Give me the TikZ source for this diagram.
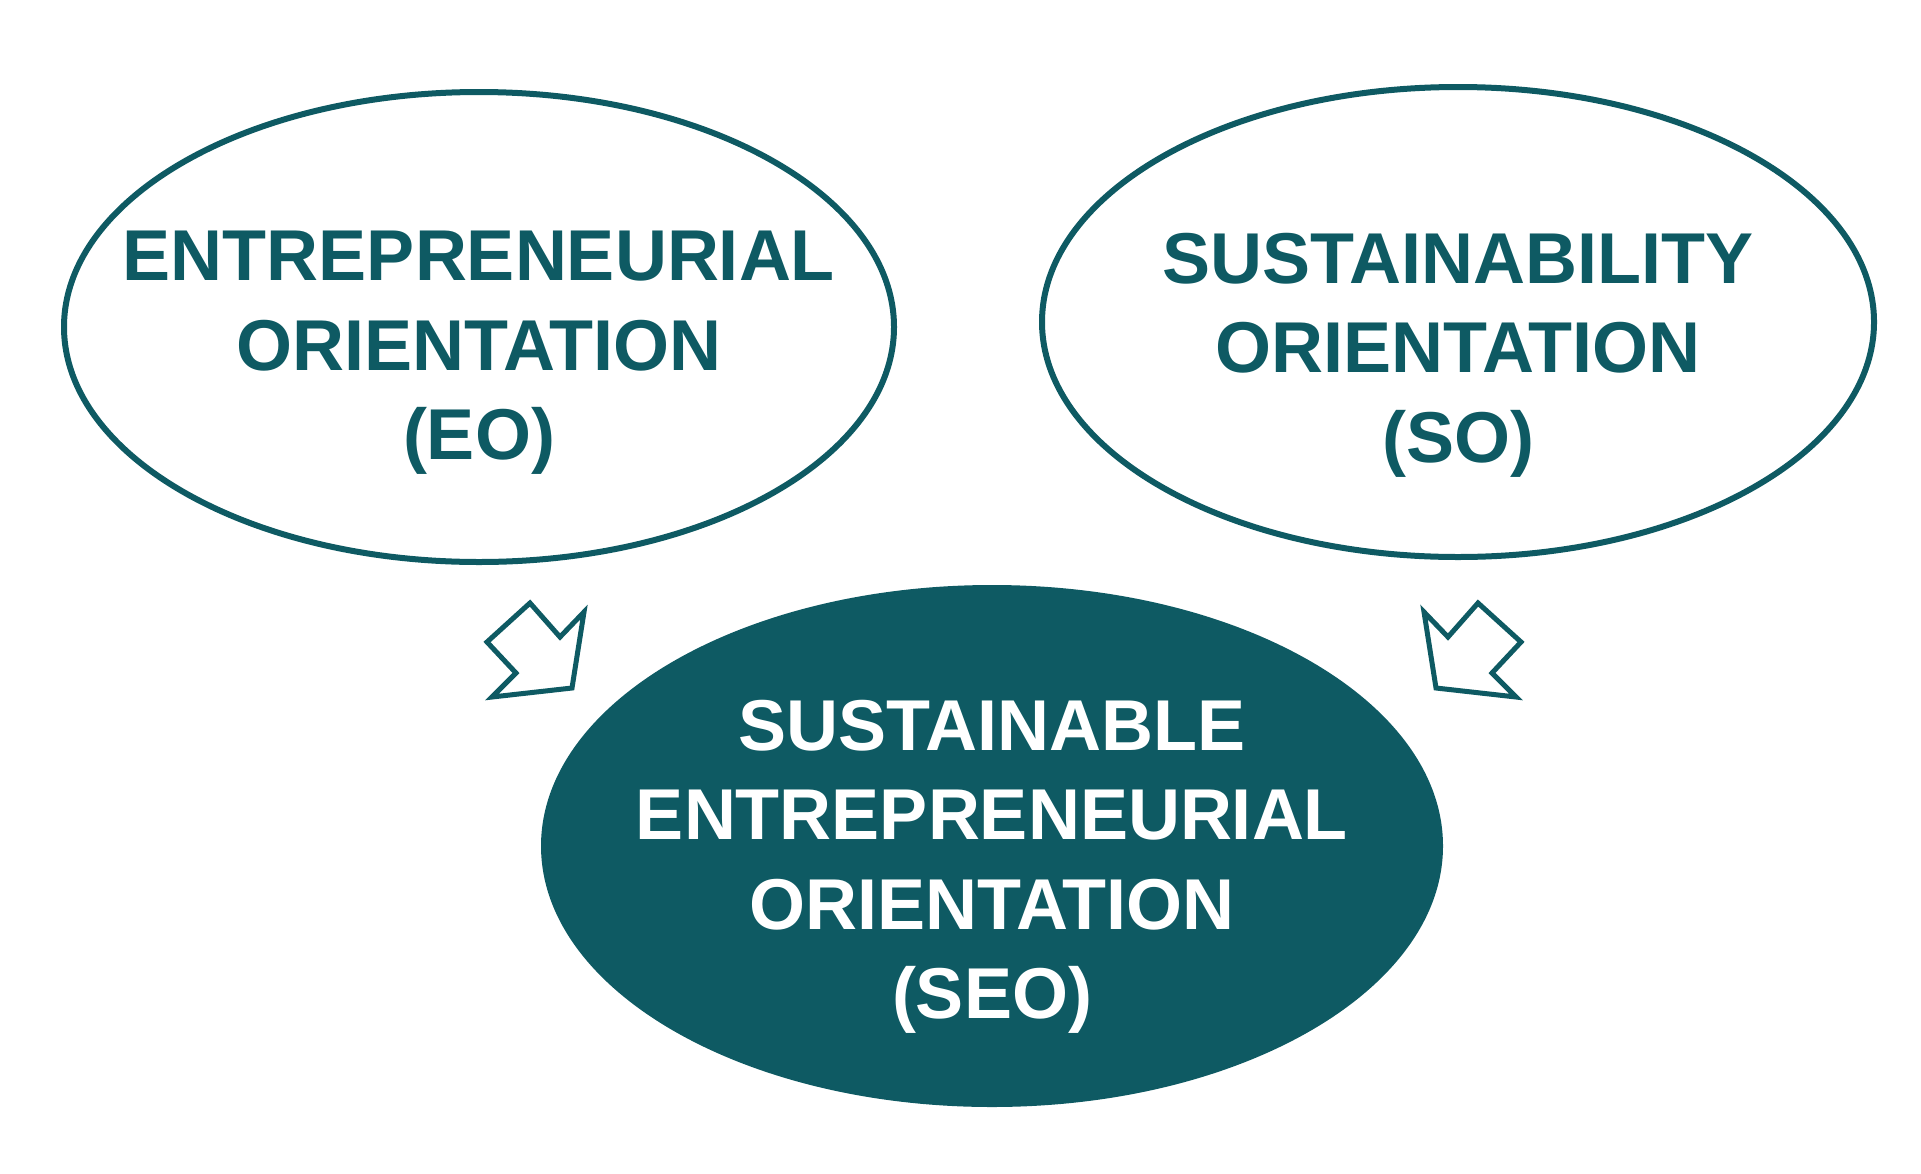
\documentclass[tikz,border=0pt]{standalone}
\usepackage{fontspec}
\setmainfont{Liberation Sans}
\definecolor{teal1}{HTML}{0E5A63}
\begin{document}
\begin{tikzpicture}[x=0.5pt,y=-0.5pt,
  ell/.style={draw=teal1,line width=3pt},
  lbl/.style={align=center,font=\fontsize{36}{44.7}\selectfont\bfseries,text=teal1},
  arr/.style={draw=teal1,line width=2.5pt,fill=white,line join=miter}]
\useasboundingbox (0,0) rectangle (1921,1173);
\draw[ell] (479,327) ellipse [x radius=415,y radius=235];
\draw[ell] (1458,322) ellipse [x radius=416,y radius=235];
\fill[teal1] (992,846) ellipse [x radius=451,y radius=261];
\node[lbl] (eo) at (479,353) {ENTREPRENEURIAL\\ORIENTATION\\(EO)};
\node[lbl] (so) at (1458,355) {SUSTAINABILITY\\ORIENTATION\\(SO)};
\node[lbl,text=white] (seo) at (992,867) {SUSTAINABLE\\ENTREPRENEURIAL\\ORIENTATION\\(SEO)};
\draw[arr] (530,603)--(560,637)--(584,612)--(572,688)--(492,697)--(516,673)--(487,642)--cycle;
\draw[arr] (1478,603)--(1448,637)--(1424,612)--(1436,688)--(1516,697)--(1492,673)--(1521,642)--cycle;
\end{tikzpicture}
\end{document}
